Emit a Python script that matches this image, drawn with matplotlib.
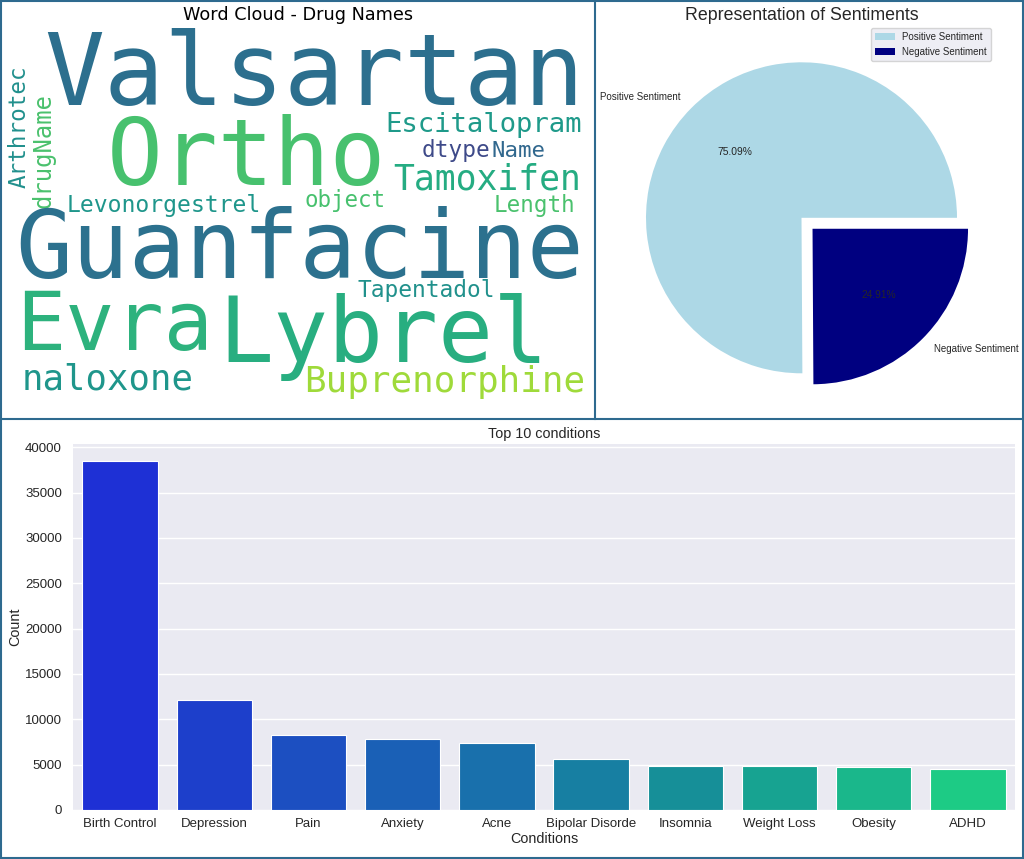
import matplotlib
matplotlib.use("Agg")
import matplotlib.pyplot as plt
import seaborn as sns
import numpy as np
from matplotlib.patches import Rectangle

# ---------------- data ----------------
conditions = ["Birth Control", "Depression", "Pain", "Anxiety", "Acne",
              "Bipolar Disorde", "Insomnia", "Weight Loss", "Obesity", "ADHD"]
condition_counts = [38436, 12164, 8245, 7812, 7435, 5604, 4904, 4857, 4757, 4509]

sentiment_labels = ["Positive Sentiment", "Negative Sentiment"]
sentiment_share = [75.09, 24.91]

cloud_words = ["Valsartan", "Ortho", "Escitalopram", "dtype", "Name", "Tamoxifen",
               "Arthrotec", "drugName", "Levonorgestrel", "object", "Length",
               "Guanfacine", "Tapentadol", "Evra", "Lybrel", "naloxone", "Buprenorphine"]

# ---------------- layout / style ----------------
# word cloud placement in image pixels: (x_start, baseline, ink length, rotation)
cloud_layout = [
    (44.0, 105.0, 541.5, 0),
    (106.4, 184.5, 279.5, 0),
    (385.0, 131.5, 197.0, 0),
    (421.5, 156.7, 68.5, 0),
    (491.5, 156.7, 54.0, 0),
    (393.5, 189.0, 188.5, 0),
    (25.5, 188.0, 123.0, 90),
    (51.0, 208.0, 115.0, 90),
    (67.0, 212.3, 195.0, 0),
    (305.0, 206.7, 81.5, 0),
    (493.3, 211.7, 81.7, 0),
    (15.3, 278.3, 570.2, 0),
    (357.8, 296.7, 137.8, 0),
    (16.0, 350.0, 197.3, 0),
    (218.3, 361.7, 330.7, 0),
    (21.7, 390.0, 171.6, 0),
    (304.2, 391.7, 281.3, 0),
]
cloud_colors = ["#2c6f8e", "#47c16e", "#1f9a8a", "#3e4a89", "#31688e", "#25ac82",
                "#21908d", "#4ac16d", "#1f968b", "#47c16e", "#4ac16d",
                "#2c718e", "#21918c", "#2db27d", "#28ae80", "#1f968b", "#9fda3a"]

TEXT = "#262626"
BORDER = "#2e6a8f"
W, H = 1024, 859

fig = plt.figure(figsize=(W / 100, H / 100), dpi=100, facecolor="white")


def px_axes(x0, y0, x1, y1):
    return fig.add_axes([x0 / W, 1 - y1 / H, (x1 - x0) / W, (y1 - y0) / H])


# ---------------- bar chart ----------------
axb = px_axes(73, 444, 1015, 810)
axb.set_facecolor("#EAEAF2")
bar_colors = sns.color_palette("winter", len(conditions), desat=0.75)
xpos = np.arange(len(conditions))
axb.bar(xpos, condition_counts, width=0.8, color=bar_colors,
        edgecolor="white", linewidth=0.8, zorder=2)
axb.set_xlim(-0.5, len(conditions) - 0.5)
axb.set_ylim(0, max(condition_counts) * 1.05)
axb.set_yticks(np.arange(0, 40001, 5000))
axb.set_xticks(xpos)
axb.set_xticklabels(conditions)
axb.grid(axis="y", color="white", linewidth=1.0, zorder=0)
axb.set_axisbelow(True)
for s in axb.spines.values():
    s.set_visible(False)
axb.tick_params(length=0, labelsize=9.5, labelcolor=TEXT, labelfontfamily="Liberation Sans")
axb.tick_params(axis="y", pad=8)
axb.tick_params(axis="x", pad=5.5)
axb.set_xlabel("Conditions", fontsize=10.4, color=TEXT, family="Liberation Sans", labelpad=1.5)
axb.set_ylabel("Count", fontsize=10.4, color=TEXT, family="Liberation Sans", labelpad=2)
axb.set_title("Top 10 conditions", fontsize=10.4, color=TEXT, family="Liberation Sans", pad=4.3)

# ---------------- pie chart ----------------
cx, cy, r = 801.5, 217.8, 155.5
axp = px_axes(cx - 1.25 * r, cy - 1.25 * r, cx + 1.25 * r, cy + 1.25 * r)
wedges, texts, autotexts = axp.pie(
    sentiment_share, labels=sentiment_labels, colors=["lightblue", "navy"],
    explode=[0, 0.1], autopct="%.2f%%",
    textprops=dict(color=TEXT, family="Liberation Sans", fontsize=7))
for t in autotexts:
    t.set_fontsize(7.4)
axp.set_xlim(-1.25, 1.25)
axp.set_ylim(-1.25, 1.25)
leg = axp.legend(loc="upper right", prop=dict(family="Liberation Sans", size=7),
                 facecolor="#EAEAF2", framealpha=0.8, edgecolor="0.8", labelcolor=TEXT)

# ---------------- overlay: word cloud, titles, borders ----------------
ov = fig.add_axes([0, 0, 1, 1])
ov.set_xlim(0, W)
ov.set_ylim(H, 0)
ov.axis("off")
ov.patch.set_visible(False)

renderer = fig.canvas.get_renderer()
for word, (x0, yb, length, rot), col in zip(cloud_words, cloud_layout, cloud_colors):
    t = ov.text(x0, yb, word, fontsize=50, family="DejaVu Sans Mono", color=col,
                rotation=rot, rotation_mode="anchor", ha="left", va="baseline")
    bb = t.get_window_extent(renderer)
    cur = bb.height if rot else bb.width
    t.set_fontsize(50 * length / cur)

ov.text(298, 20, "Word Cloud - Drug Names", fontsize=12.7, family="DejaVu Sans",
        color="black", ha="center", va="baseline")
ov.text(801.5, 20, "Representation of Sentiments", fontsize=12.8, family="Liberation Sans",
        color=TEXT, ha="center", va="baseline")

ov.add_patch(Rectangle((1, 1), W - 2.5, H - 2.5, fill=False, edgecolor=BORDER, lw=1.5))
ov.plot([0, W], [419, 419], color=BORDER, lw=1.5)
ov.plot([595, 595], [0, 419], color=BORDER, lw=1.5)

fig.savefig("out.png", dpi=100, facecolor="white")
